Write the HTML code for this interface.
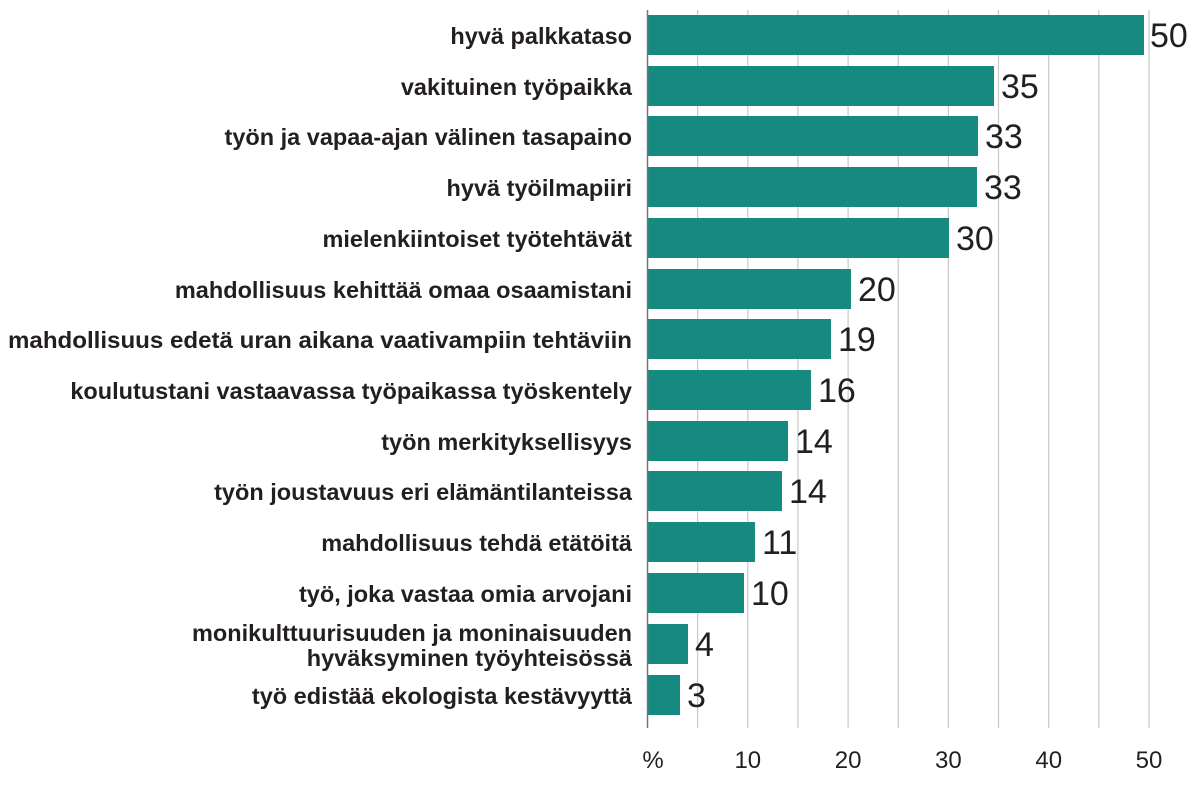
<!DOCTYPE html>
<html><head><meta charset="utf-8"><style>
html,body{margin:0;padding:0;background:#fff;}
svg{display:block;}
.l{font-family:"Liberation Sans",sans-serif;font-size:23.5px;font-weight:bold;fill:#231f20;text-anchor:end;}
.v{font-family:"Liberation Sans",sans-serif;font-size:34px;fill:#231f20;}
.t{font-family:"Liberation Sans",sans-serif;font-size:24px;fill:#231f20;text-anchor:middle;}
</style></head><body>
<svg width="1200" height="808" viewBox="0 0 1200 808">
<g stroke="#c8c8c8" stroke-width="1.2">
<line x1="697.6" y1="10" x2="697.6" y2="728"/><line x1="747.8" y1="10" x2="747.8" y2="728"/>
<line x1="797.9" y1="10" x2="797.9" y2="728"/><line x1="848.1" y1="10" x2="848.1" y2="728"/>
<line x1="898.2" y1="10" x2="898.2" y2="728"/><line x1="948.4" y1="10" x2="948.4" y2="728"/>
<line x1="998.5" y1="10" x2="998.5" y2="728"/><line x1="1048.7" y1="10" x2="1048.7" y2="728"/>
<line x1="1098.8" y1="10" x2="1098.8" y2="728"/><line x1="1149" y1="10" x2="1149" y2="728"/>
</g>
<g fill="#168a80">
<rect x="648" y="15" width="496" height="40"/>
<rect x="648" y="66" width="346" height="40"/>
<rect x="648" y="116" width="330" height="40"/>
<rect x="648" y="167" width="329" height="40"/>
<rect x="648" y="218" width="301" height="40"/>
<rect x="648" y="269" width="203" height="40"/>
<rect x="648" y="319" width="183" height="40"/>
<rect x="648" y="370" width="163" height="40"/>
<rect x="648" y="421" width="140" height="40"/>
<rect x="648" y="471" width="134" height="40"/>
<rect x="648" y="522" width="107" height="40"/>
<rect x="648" y="573" width="96" height="40"/>
<rect x="648" y="624" width="40" height="40"/>
<rect x="648" y="675" width="32" height="40"/>
</g>
<line x1="647.5" y1="10" x2="647.5" y2="728" stroke="#777" stroke-width="1.5"/>
<g class="v">
<text x="1150" y="47">50</text><text x="1001" y="98">35</text><text x="985" y="148">33</text>
<text x="984" y="199">33</text><text x="956" y="250">30</text><text x="858" y="301">20</text>
<text x="838" y="351">19</text><text x="818" y="402">16</text><text x="795" y="453">14</text>
<text x="789" y="503">14</text><text x="762" y="554">11</text><text x="751" y="605">10</text>
<text x="695" y="656">4</text><text x="687" y="707">3</text>
</g>
<g class="l">
<text x="632" y="44">hyvä palkkataso</text>
<text x="632" y="95">vakituinen työpaikka</text>
<text x="632" y="145">työn ja vapaa-ajan välinen tasapaino</text>
<text x="632" y="196">hyvä työilmapiiri</text>
<text x="632" y="247">mielenkiintoiset työtehtävät</text>
<text x="632" y="298">mahdollisuus kehittää omaa osaamistani</text>
<text x="632" y="348" textLength="624" lengthAdjust="spacingAndGlyphs">mahdollisuus edetä uran aikana vaativampiin tehtäviin</text>
<text x="632" y="399">koulutustani vastaavassa työpaikassa työskentely</text>
<text x="632" y="450">työn merkityksellisyys</text>
<text x="632" y="500">työn joustavuus eri elämäntilanteissa</text>
<text x="632" y="551">mahdollisuus tehdä etätöitä</text>
<text x="632" y="602">työ, joka vastaa omia arvojani</text>
<text x="632" y="641">monikulttuurisuuden ja moninaisuuden</text>
<text x="632" y="666">hyväksyminen työyhteisössä</text>
<text x="632" y="704">työ edistää ekologista kestävyyttä</text>
</g>
<g class="t">
<text x="653" y="768">%</text><text x="747.8" y="768">10</text><text x="848.1" y="768">20</text>
<text x="948.4" y="768">30</text><text x="1048.7" y="768">40</text><text x="1149" y="768">50</text>
</g>
</svg>
</body></html>
